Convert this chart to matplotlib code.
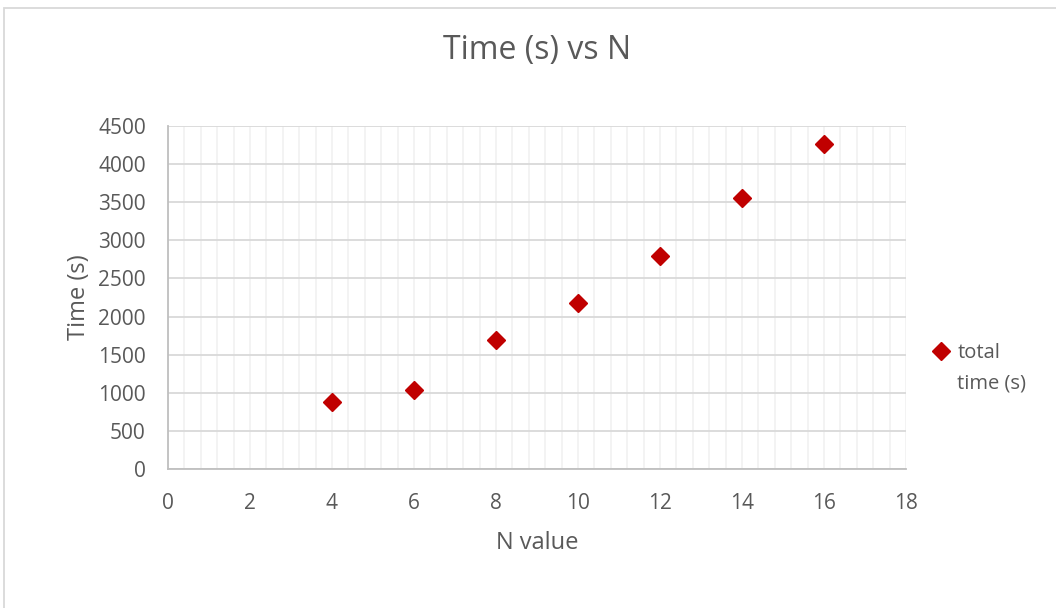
import matplotlib.pyplot as plt
from matplotlib.patches import Rectangle
import numpy as np

n_value = [4, 6, 8, 10, 12, 14, 16]
total_time = [880, 1035, 1692, 2180, 2795, 3550, 4270]

x_ticks = list(range(0, 19, 2))
y_ticks = list(range(0, 4501, 500))

txt = '#595959'
plt.rcParams['font.family'] = ['Open Sans', 'DejaVu Sans']

W, H = 1056, 608
fig = plt.figure(figsize=(W / 100, H / 100), dpi=100)
ax = fig.add_axes([168 / W, 1 - 469 / H, (906 - 168) / W, (469 - 126) / H])

# chart frame (cut off on right and bottom like the screenshot)
fig.patches.append(Rectangle((3.5 / W, -0.1), 1.2, 1 - 7.5 / H + 0.1,
                             transform=fig.transFigure, fill=False,
                             edgecolor='#d9d9d9', linewidth=1.3))

ax.set_xlim(0, 18)
ax.set_ylim(0, 4500)
ax.set_xticks(x_ticks)
ax.set_yticks(y_ticks)
ax.set_xticks(np.arange(0, 18.01, 0.4), minor=True)

ax.grid(which='minor', axis='x', color='#f2f2f2', linewidth=1.3)
ax.grid(which='major', axis='x', color='#f2f2f2', linewidth=1.3)
ax.grid(which='major', axis='y', color='#d9d9d9', linewidth=1.3)
ax.set_axisbelow(True)

for s in ['top', 'right']:
    ax.spines[s].set_visible(False)
for s in ['left', 'bottom']:
    ax.spines[s].set_color('#bfbfbf')
    ax.spines[s].set_linewidth(1.3)

ax.tick_params(which='both', length=0, labelsize=15, labelcolor=txt)
ax.tick_params(axis='y', pad=16)
ax.tick_params(axis='x', pad=17)

ax.plot(n_value, total_time, linestyle='none', marker='D', ms=9,
        color='#c00000', label='total', clip_on=False)

fig.text(537 / W, 1 - 50 / H, 'Time (s) vs N', fontsize=23, color=txt,
         ha='center', va='center')
ax.set_xlabel('N value', fontsize=17, color=txt)
ax.set_ylabel('Time (s)', fontsize=17, color=txt)
ax.xaxis.set_label_coords(0.5, -(531 - 469) / 343)
ax.yaxis.set_label_coords(-(168 - 91) / 738, 0.5)

leg = ax.legend(loc='center left', bbox_to_anchor=(934 / W, 1 - 353 / H),
                bbox_transform=fig.transFigure, frameon=False,
                fontsize=14.5, handlelength=0.7, handletextpad=0.45,
                borderpad=0, borderaxespad=0, labelcolor=txt)
fig.text(957 / W, 1 - 384 / H, 'time (s)', fontsize=14.5, color=txt,
         ha='left', va='center')

fig.savefig('out.png', dpi=100, facecolor='white')
